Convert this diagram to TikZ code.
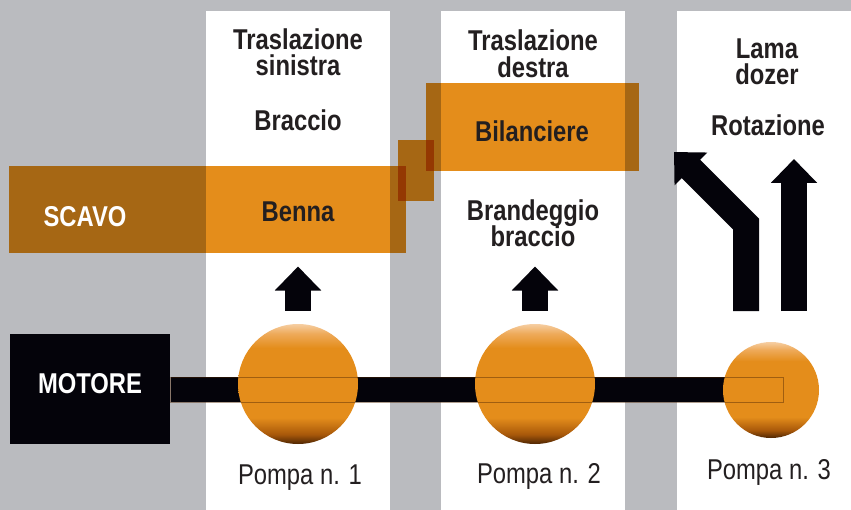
\documentclass[tikz,border=0pt]{standalone}
\usepackage{fontspec}
\setmainfont{Liberation Sans}[FakeStretch=0.83]
\usetikzlibrary{arrows.meta}
\definecolor{bggray}{RGB}{186,187,191}
\definecolor{pumporange}{RGB}{228,141,27}
\definecolor{pumpmid}{RGB}{168,88,10}
\definecolor{pumpglow}{RGB}{238,170,90}
\definecolor{pumplight}{RGB}{246,206,162}
\definecolor{pumpdark}{RGB}{78,38,3}
\definecolor{inkblack}{RGB}{4,3,10}
\definecolor{textgray}{RGB}{35,31,32}
\pgfdeclareverticalshading{pumpshade}{100bp}{color(0bp)=(pumpdark); color(25bp)=(pumpdark); color(29bp)=(pumpmid); color(36bp)=(pumporange); color(65bp)=(pumporange); color(71bp)=(pumpglow); color(75bp)=(pumplight); color(100bp)=(pumplight)}
\tikzset{every picture/.style={line width=0.75pt}}
\tikzset{
  lbl/.style={font=\fontsize{21.5}{20.25}\selectfont\bfseries, text=textgray, align=center, inner sep=0pt, anchor=base},
  pumplbl/.style={font=\fontsize{21.5}{20.25}\selectfont, text=textgray, inner sep=0pt, anchor=base},
  pump/.style={circle, shade, shading=pumpshade, inner sep=0pt},
  bigarrow/.style={draw=inkblack, line width=19.5pt, line join=miter, -{Triangle[width=33.75pt,length=18pt]}},
  shaftedge/.style={draw=pumpdark, line width=0.5pt, opacity=0.45}
}

\begin{document}
\begin{tikzpicture}[x=0.75pt,y=0.75pt,yscale=-1,xscale=1]
\useasboundingbox (0,0) rectangle (851,510);
% background and columns
\fill[bggray] (0,0) rectangle (851,510);
\fill[white] (206,11) rectangle (390,510);
\fill[white] (441,11) rectangle (625,510);
\fill[white] (677,11) rectangle (851,510);
% orange bars
\begin{scope}[blend mode=multiply]
\fill[pumporange] (9,166) rectangle (406,253);
\fill[pumporange] (426,83) rectangle (639,171);
\fill[pumporange] (398,140) rectangle (434,201);
\end{scope}
% motor, shaft and pumps
\node[fill=inkblack, text=white, font=\fontsize{21.5}{20.25}\selectfont\bfseries, minimum width=120pt, text height=44.25pt, text depth=38.25pt, inner sep=0pt, anchor=base] (motore) at (90,393) {MOTORE};
\coordinate (shaftend) at (783,389);
\draw[inkblack, line width=18.75pt] (motore.east) -- (shaftend);
\node[pump, minimum size=90pt] (pump1) at (298,384) {};
\node[pump, minimum size=90pt] (pump2) at (535,384) {};
\node[pump, minimum size=72pt] (pump3) at (771,390) {};
\draw[shaftedge] (170,377) rectangle (783,402);
% arrows
\draw[bigarrow] (pump1.north) ++(0,-13) -- ++(0,-44);
\draw[bigarrow] (pump2.north) ++(0,-13) -- ++(0,-44);
\coordinate (lamafoot) at (746,311);
\coordinate (rotfoot) at (794,311);
\draw[bigarrow] (lamafoot) -- ++(0,-87) -- ++(-72,-72);
\draw[bigarrow] (rotfoot) -- ++(0,-152);
% labels
\node[lbl] (trsin) at (298,76) {Traslazione\\sinistra};
\node[lbl] (braccio) at (298,131) {Braccio};
\node[lbl] (benna) at (298,221) {Benna};
\node[lbl, text=white] (scavo) at (85,226) {SCAVO};
\node[lbl] (trdes) at (533,78) {Traslazione\\destra};
\node[lbl] (bilanciere) at (532,142) {Bilanciere};
\node[lbl] (brandeggio) at (533,247) {Brandeggio\\braccio};
\node[lbl] (lama) at (767,85) {Lama\\dozer};
\node[lbl] (rotazione) at (768,136) {Rotazione};
\node[pumplbl] (pompa1) at (300,484) {Pompa n. 1};
\node[pumplbl] (pompa2) at (539,483) {Pompa n. 2};
\node[pumplbl] (pompa3) at (769,479) {Pompa n. 3};
\end{tikzpicture}
\end{document}
